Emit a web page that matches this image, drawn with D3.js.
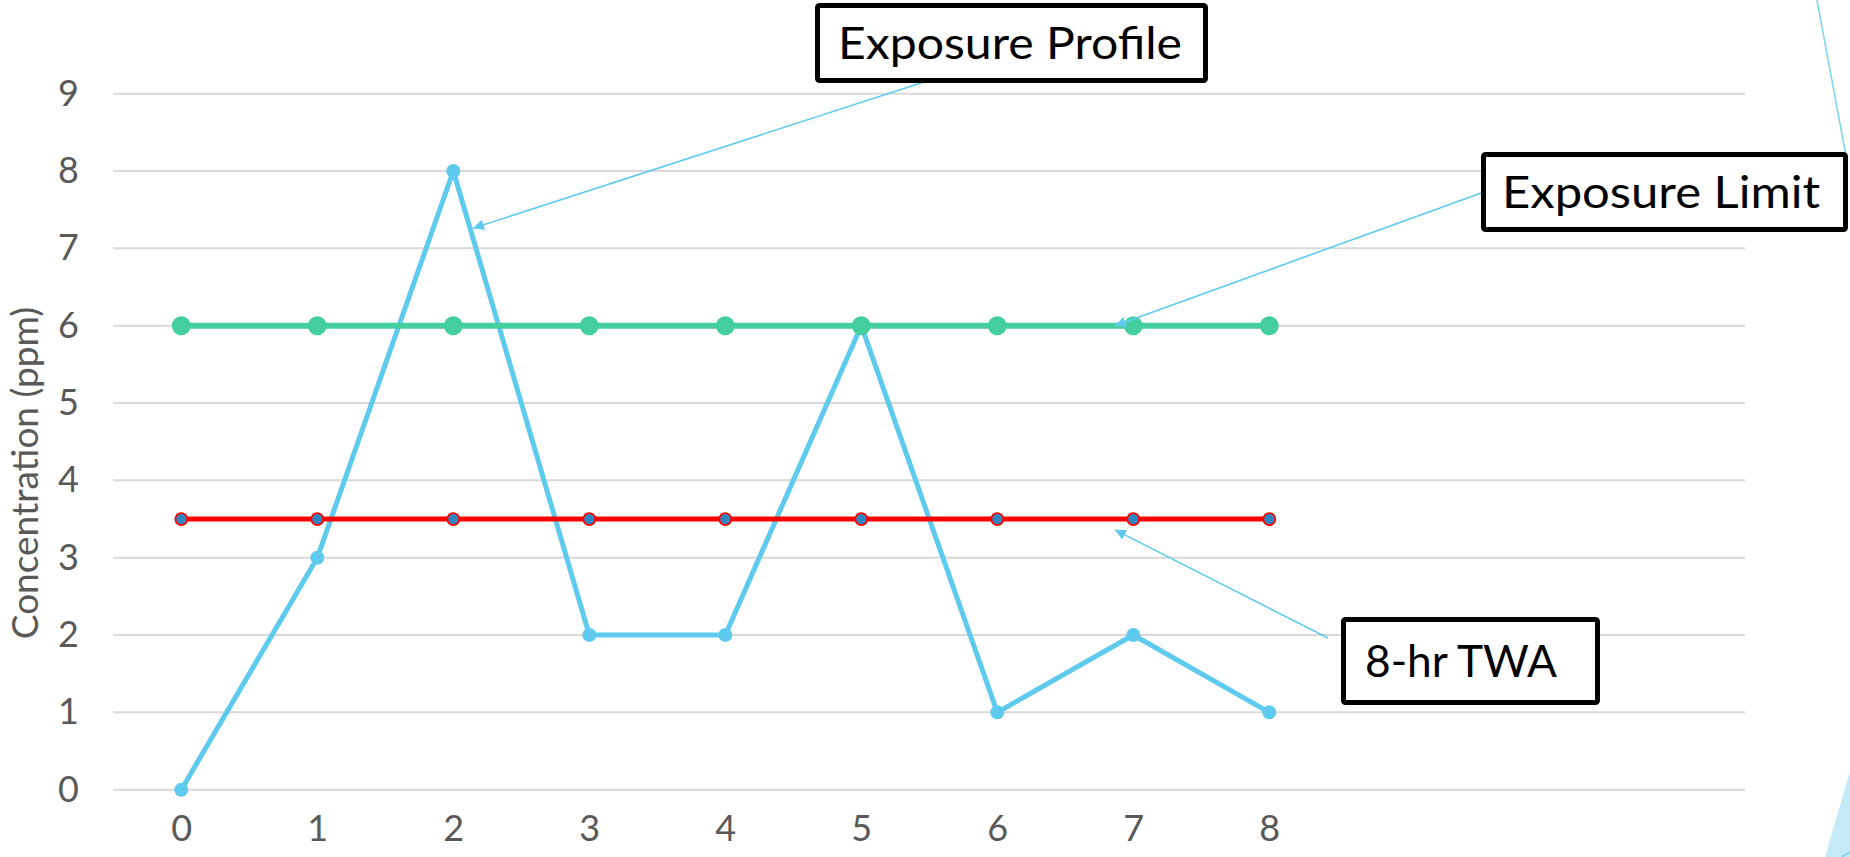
<!DOCTYPE html>
<html>
<head>
<meta charset="utf-8">
<script src="https://cdn.jsdelivr.net/npm/d3@7"></script>
<style>
  html, body { margin: 0; padding: 0; background: #fff; }
  svg { display: block; }
</style>
</head>
<body>
<svg id="chart" width="1850" height="857"></svg>
<script>
// Hours of the shift and concentration readings (ppm)
const hours = [0, 1, 2, 3, 4, 5, 6, 7, 8];
const exposureProfile = [0, 3, 8, 2, 2, 6, 1, 2, 1];
const exposureLimit = [6, 6, 6, 6, 6, 6, 6, 6, 6];
const twa8hr = [3.5, 3.5, 3.5, 3.5, 3.5, 3.5, 3.5, 3.5, 3.5];
const yTicks = [0, 1, 2, 3, 4, 5, 6, 7, 8, 9];
const yTitle = "Concentration (ppm)";

// Callout labels, anchored to points in data space
const callouts = [
  { text: "Exposure Profile", box: [815, 3, 1208, 83], textX: 838, textLen: 344, from: [927, 81], to: [2.145, 7.26] },
  { text: "Exposure Limit", box: [1481, 152, 1848, 232], textX: 1502, textLen: 318, from: [1484, 192], to: [6.865, 6.0] },
  { text: "8-hr TWA", box: [1341, 617, 1600, 705], textX: 1365, textLen: 192, from: [1328, 638], to: [6.865, 3.36] }
];

const svg = d3.select("#chart");
const plotLeft = 113, plotRight = 1745;

const x = d3.scaleLinear().domain([0, 8]).range([181.3, 1269.3]);
const y = d3.scaleLinear().domain([0, 9]).range([789.7, 93.7]);

const font = "Lato, 'Open Sans', sans-serif";

// Horizontal gridlines
svg.append("g")
  .selectAll("line")
  .data(yTicks)
  .join("line")
  .attr("x1", plotLeft).attr("x2", plotRight)
  .attr("y1", d => y(d)).attr("y2", d => y(d))
  .attr("stroke", "#d9d9d9").attr("stroke-width", 2);

// Y axis tick labels
const yAxis = svg.append("g")
  .attr("transform", `translate(79,0)`)
  .call(d3.axisLeft(y).tickValues(yTicks).tickSize(0).tickPadding(0));
yAxis.select(".domain").remove();
yAxis.selectAll("text")
  .attr("font-family", font).attr("font-size", 36).attr("fill", "#595959");

// X axis tick labels
const xAxis = svg.append("g")
  .attr("transform", `translate(0,815)`)
  .call(d3.axisBottom(x).tickValues(hours).tickFormat(d3.format("d")).tickSize(0).tickPadding(0));
xAxis.select(".domain").remove();
xAxis.selectAll("text")
  .attr("font-family", font).attr("font-size", 36).attr("fill", "#595959");

// Y axis title
svg.append("text")
  .attr("transform", `translate(38,473) rotate(-90)`)
  .attr("text-anchor", "middle")
  .attr("font-family", font).attr("font-size", 37).attr("fill", "#595959")
  .text(yTitle);

const line = d3.line().x((d, i) => x(hours[i])).y(d => y(d));

function drawSeries(values, cfg) {
  const g = svg.append("g");
  g.append("path")
    .datum(values)
    .attr("d", line)
    .attr("fill", "none")
    .attr("stroke", cfg.color)
    .attr("stroke-width", cfg.width)
    .attr("stroke-linejoin", "round");
  g.selectAll("circle")
    .data(values)
    .join("circle")
    .attr("cx", (d, i) => x(hours[i]))
    .attr("cy", d => y(d))
    .attr("r", cfg.r)
    .attr("fill", cfg.fill)
    .attr("stroke", cfg.stroke || "none")
    .attr("stroke-width", cfg.strokeWidth || 0);
}

drawSeries(exposureProfile, { color: "#5ecbee", width: 5, r: 7, fill: "#5ecbee" });
drawSeries(exposureLimit, { color: "#45cf9f", width: 6, r: 9.5, fill: "#45cf9f" });
drawSeries(twa8hr, { color: "#ff0000", width: 5, r: 6, fill: "#2e86c1", stroke: "#ff0000", strokeWidth: 1.8 });

// Arrow marker for callout leaders
svg.append("defs").append("marker")
  .attr("id", "arrow")
  .attr("viewBox", "0 0 10 10")
  .attr("refX", 10).attr("refY", 5)
  .attr("markerWidth", 11).attr("markerHeight", 11)
  .attr("markerUnits", "userSpaceOnUse")
  .attr("orient", "auto")
  .append("path")
  .attr("d", "M0,0 L10,5 L0,10 Z")
  .attr("fill", "#5ecbee");

// Decorative accents at the right edge
svg.append("line")
  .attr("x1", 1817).attr("y1", 0).attr("x2", 1846).attr("y2", 156)
  .attr("stroke", "#7fd4f1").attr("stroke-width", 1.5);
svg.append("polygon")
  .attr("points", "1825,857 1850,771 1850,857")
  .attr("fill", "#c4eaf8");
svg.append("line")
  .attr("x1", 1842).attr("y1", 857).attr("x2", 1850).attr("y2", 852)
  .attr("stroke", "#7fd4f1").attr("stroke-width", 1.5);

// Callouts: leader line with arrowhead, then boxed label
callouts.forEach(c => {
  const [fx, fy] = c.from;
  const tx = x(c.to[0]), ty = y(c.to[1]);
  svg.append("line")
    .attr("x1", fx).attr("y1", fy).attr("x2", tx).attr("y2", ty)
    .attr("stroke", "#5ecbee").attr("stroke-width", 1.6)
    .attr("marker-end", "url(#arrow)");
  const [x0, y0, x1, y1] = c.box;
  svg.append("rect")
    .attr("x", x0 + 2.5).attr("y", y0 + 2.5)
    .attr("width", x1 - x0 - 5).attr("height", y1 - y0 - 5)
    .attr("rx", 2)
    .attr("fill", "#fff").attr("stroke", "#000").attr("stroke-width", 5);
  svg.append("text")
    .attr("x", c.textX).attr("y", (y0 + y1) / 2 + 16)
    .attr("font-family", font).attr("font-size", 45).attr("fill", "#000")
    .attr("textLength", c.textLen).attr("lengthAdjust", "spacingAndGlyphs")
    .text(c.text);
});
</script>
</body>
</html>
